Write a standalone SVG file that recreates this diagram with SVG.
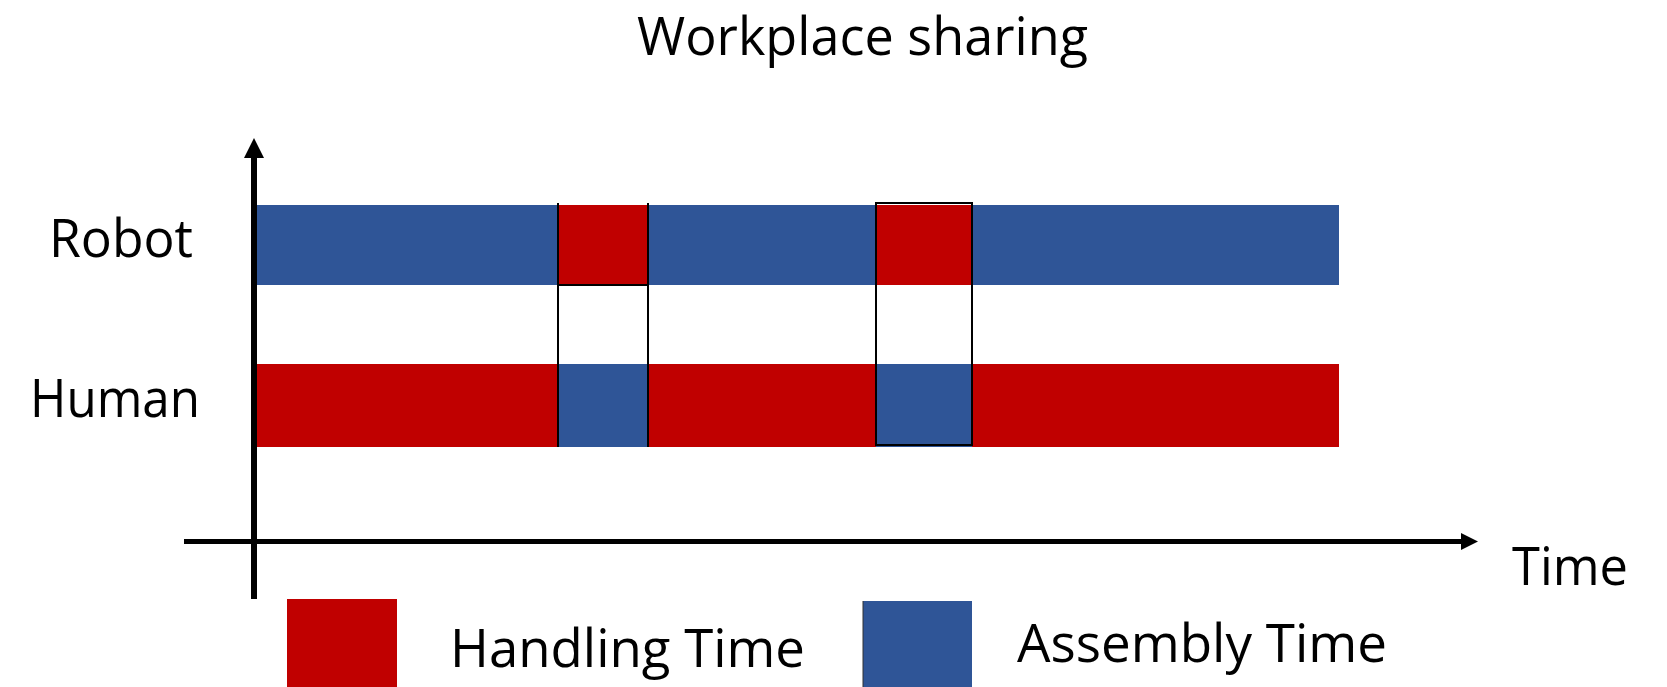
<svg xmlns="http://www.w3.org/2000/svg" width="1667" height="687" viewBox="0 0 1667 687">
<style>
.t{font-family:"Open Sans","Liberation Sans",sans-serif;font-size:53px;fill:#000}
.red{fill:#C00000}
.blue{fill:#2F5597}
.ln{stroke:#000;stroke-width:2;fill:none}
.ax{stroke:#000;fill:none}
</style>
<rect width="1667" height="687" fill="#fff"/>
<g id="title"><text class="t" x="637" y="55" textLength="451" lengthAdjust="spacingAndGlyphs">Workplace sharing</text></g>
<g id="labels">
<text class="t" x="49" y="257" textLength="144" lengthAdjust="spacingAndGlyphs">Robot</text>
<text class="t" x="30" y="417" textLength="170" lengthAdjust="spacingAndGlyphs">Human</text>
<text class="t" x="1512" y="585" textLength="116" lengthAdjust="spacingAndGlyphs">Time</text>
</g>
<g id="robot">
<rect class="blue" x="257" y="205" width="1082" height="80"/>
<rect class="red" x="558" y="205" width="90" height="80"/>
<rect class="red" x="876" y="205" width="96" height="80"/>
</g>
<g id="human">
<rect class="red" x="257" y="364" width="1082" height="83"/>
<rect class="blue" x="558" y="364" width="90" height="83"/>
<rect class="blue" x="876" y="364" width="96" height="83"/>
</g>
<g id="connectors">
<path class="ln" d="M558 203 V447 M648 203 V447 M558 285 H648"/>
<rect class="ln" x="876" y="203" width="96" height="242"/>
<path class="ax" stroke-width="6" d="M254 599 V155"/>
<path d="M254 138 L264 158 L244 158 Z" fill="#000"/>
<path class="ax" stroke-width="5" d="M184 541.5 H1464"/>
<path d="M1478 541.5 L1461 533 L1461 550 Z" fill="#000"/>
</g>
<g id="legend-handling">
<rect class="red" x="287" y="599" width="110" height="88"/>
<text class="t" x="450" y="667" textLength="355" lengthAdjust="spacingAndGlyphs">Handling Time</text>
</g>
<g id="legend-assembly">
<rect class="blue" x="863" y="601" width="109" height="86"/>
<line x1="863" y1="601" x2="863" y2="687" stroke="#333" stroke-width="1"/>
<text class="t" x="1017" y="662" textLength="370" lengthAdjust="spacingAndGlyphs">Assembly Time</text>
</g>
</svg>
